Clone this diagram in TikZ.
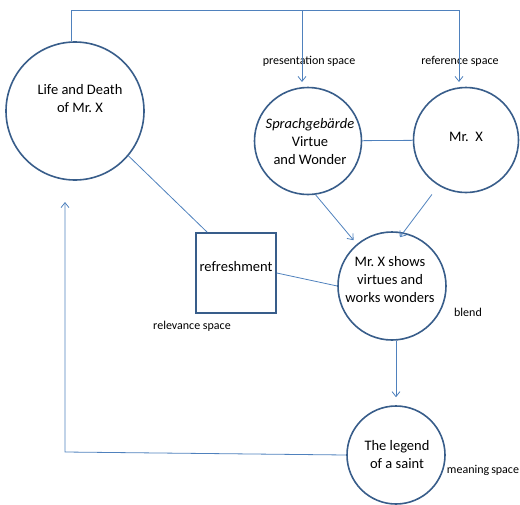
\documentclass[tikz,border=0pt]{standalone}
\usepackage{fontspec}
\setmainfont{Carlito}
\usetikzlibrary{arrows.meta}
\definecolor{rimblue}{RGB}{56,93,138}
\definecolor{linkblue}{RGB}{79,129,189}

\begin{document}
\begin{tikzpicture}[x=1pt,y=-1pt,
        space/.style={circle,draw=rimblue,line width=1.6pt,inner sep=0pt},
        frame/.style={rectangle,draw=rimblue,line width=1.6pt,inner sep=0pt,minimum size=80pt},
        link/.style={draw=linkblue,line width=0.8pt},
        arr/.style={link,-{Straight Barb[length=5pt,width=8pt]}},
        txt/.style={font=\fontsize{14.5}{18}\selectfont,align=center,inner sep=0pt},
        tag/.style={font=\fontsize{12}{14}\selectfont,inner sep=0pt}]
    \useasboundingbox (0,0) rectangle (520,504);

    \node[space,minimum size=138pt] (life) at (75,111) {};
    \node[space,minimum size=107pt] (sprach) at (308,141) {};
    \node[space,minimum size=105pt] (mrx) at (466,140) {};
    \node[space,minimum size=108pt] (blend) at (392,286) {};
    \node[space,minimum size=98pt] (legend) at (396,455) {};
    \node[frame] (fresh) at (236,273) {};

    \node[txt] (lifetxt) at (80,99) {Life and Death\\of Mr.\ X};
    \node[txt] (sprachtxt) at (310,142) {\textit{Sprachgebärde}\\Virtue\\and Wonder};
    \node[txt] (mrxtxt) at (466,137) {Mr.\ \ X};
    \node[txt] (blendtxt) at (390,280) {Mr.\ X shows\\virtues and\\works wonders};
    \node[txt] (legendtxt) at (397,455) {The legend\\of a saint};
    \node[txt] (freshtxt) at (236,267) {refreshment};

    \node[tag] (presname) at (309,61) {presentation space};
    \node[tag] (refname) at (460,61) {reference space};
    \node[tag] (relname) at (192,326) {relevance space};
    \node[tag] (blendname) at (468,312) {blend};
    \node[tag] (meanname) at (483,470) {meaning\,space};

    \coordinate (ridge) at (459,10);
    \coordinate (fork) at (302,10);
    \coordinate (refin) at (459,82);
    \coordinate (presin) at (302,82);
    \coordinate (corner) at (65,452);
    \coordinate (lifein) at (65,202);

    \draw[link] (life.93) |- (ridge);
    \draw[arr] (ridge) -- (refin);
    \draw[arr] (fork) -- (presin);
    \draw[link] (sprach) -- (mrx);
    \draw[arr,shorten >=5pt] (sprach.-82) -- (blend.130);
    \draw[arr,shorten <=11pt,shorten >=-6pt] (mrx.-121) -- (blend.78);
    \draw[arr,shorten >=8pt] (legend.north |- blend.south) -- (legend.north);
    \draw[link] (fresh.east) -- (blend.west);
    \draw[link] (life.-40) -- ([xshift=12pt]fresh.north west);
    \draw[arr] (legend.west) -- (corner) -- (lifein);
\end{tikzpicture}
\end{document}
